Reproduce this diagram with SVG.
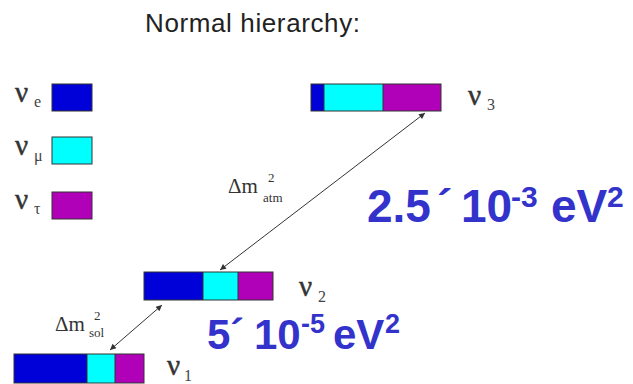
<svg xmlns="http://www.w3.org/2000/svg" width="633" height="384" viewBox="0 0 633 384">
<style>
.bar{stroke:#333;stroke-width:1}
.e{fill:#0000d8}.m{fill:#00ffff}.t{fill:#b000b8}
.nu{font-family:"Liberation Serif",serif;font-size:29px;fill:#333;stroke:#333;stroke-width:0.5}
.sub{font-family:"Liberation Serif",serif;font-size:16px;fill:#444}
.dm{font-family:"Liberation Serif",serif;font-size:21px;fill:#333}
.sm{font-family:"Liberation Serif",serif;font-size:13px;fill:#333}
.big{font-family:"Liberation Sans",Arial,sans-serif;font-weight:bold;fill:#3333cc}
.conn{stroke:#333;stroke-width:1;fill:none;marker-start:url(#ah);marker-end:url(#ah)}
</style>
<defs>
<marker id="ah" viewBox="0 0 10 10" refX="10" refY="5" markerWidth="9" markerHeight="6" orient="auto-start-reverse" markerUnits="userSpaceOnUse">
<path d="M0,0 L10,5 L0,10 z" fill="#333"/>
</marker>
</defs>
<rect width="633" height="384" fill="#fff"/>
<g id="title"><text x="145" y="32" font-family="Liberation Sans,Arial,sans-serif" font-size="26" fill="#222" textLength="215">Normal hierarchy:</text></g>
<g id="legend-e"><text class="nu" x="15" y="102">ν</text><text class="sub" x="34" y="107">e</text><rect class="bar e" x="52" y="84" width="40" height="27"/></g>
<g id="legend-mu"><text class="nu" x="15" y="155">ν</text><text class="sub" x="34" y="161">μ</text><rect class="bar m" x="52" y="137" width="40" height="27"/></g>
<g id="legend-tau"><text class="nu" x="15" y="209">ν</text><text class="sub" x="34" y="214">τ</text><rect class="bar t" x="52" y="192" width="40" height="27"/></g>
<g id="nu3"><rect class="e" x="311" y="84" width="13" height="27"/><rect class="m" x="324" y="84" width="59" height="27"/><rect class="t" x="383" y="84" width="58" height="27"/><rect class="bar" x="311" y="84" width="130" height="27" fill="none"/><line class="bar" x1="324" y1="84" x2="324" y2="111"/><line class="bar" x1="383" y1="84" x2="383" y2="111"/><text class="nu" x="468" y="105">ν</text><text class="sub" x="487" y="110">3</text></g>
<g id="nu2"><rect class="e" x="144" y="272" width="59" height="28"/><rect class="m" x="203" y="272" width="35" height="28"/><rect class="t" x="238" y="272" width="35" height="28"/><rect class="bar" x="144" y="272" width="129" height="28" fill="none"/><line class="bar" x1="203" y1="272" x2="203" y2="300"/><line class="bar" x1="238" y1="272" x2="238" y2="300"/><text class="nu" x="299" y="296">ν</text><text class="sub" x="318" y="302">2</text></g>
<g id="nu1"><rect class="e" x="14" y="354" width="73" height="29"/><rect class="m" x="87" y="354" width="28" height="29"/><rect class="t" x="115" y="354" width="29" height="29"/><rect class="bar" x="14" y="354" width="130" height="29" fill="none"/><line class="bar" x1="87" y1="354" x2="87" y2="383"/><line class="bar" x1="115" y1="354" x2="115" y2="383"/><text class="nu" x="167" y="375">ν</text><text class="sub" x="184" y="381">1</text></g>
<g id="connectors">
<line class="conn" x1="220" y1="270" x2="425" y2="113"/>
<line class="conn" x1="162" y1="305" x2="110" y2="350"/>
</g>
<g id="label-atm"><text class="dm" x="228" y="193">Δm</text><text class="sm" x="268" y="182">2</text><text class="sm" x="263" y="202">atm</text></g>
<g id="label-sol"><text class="dm" x="55" y="331">Δm</text><text class="sm" x="94" y="320">2</text><text class="sm" x="89" y="337">sol</text></g>
<g id="val-atm"><text class="big" y="222" font-size="46"><tspan x="367">2.5</tspan><tspan x="437">´</tspan><tspan x="461">10</tspan><tspan x="511" font-size="30" dy="-15">-3</tspan><tspan x="551" dy="15">eV</tspan><tspan x="607" font-size="30" dy="-15">2</tspan></text></g>
<g id="val-sol"><text class="big" y="349" font-size="42"><tspan x="207">5</tspan><tspan x="230">´</tspan><tspan x="254">10</tspan><tspan x="301" font-size="27" dy="-16">-5</tspan><tspan x="333" dy="16">eV</tspan><tspan x="385" font-size="27" dy="-16">2</tspan></text></g>
</svg>
